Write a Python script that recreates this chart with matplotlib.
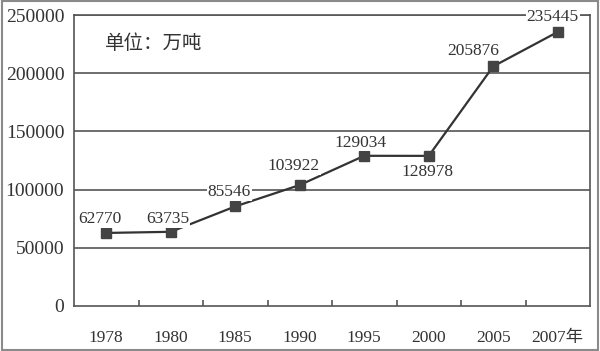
import matplotlib
matplotlib.use("Agg")
import matplotlib.pyplot as plt
import numpy as np
from matplotlib.patches import Rectangle

YEARS = ["1978", "1980", "1985", "1990", "1995", "2000", "2005", "2007年"]
OUTPUT = [62770, 63735, 85546, 103922, 129034, 128978, 205876, 235445]
# label offsets in pixels (dx, dy) relative to each point
LABEL_OFFSETS = [(-6, 14), (-3, 13), (-6, 14), (-6, 19), (-4, 13), (-1, -16), (-20, 15), (-5, 15)]
Y_TICKS = [0, 50000, 100000, 150000, 200000, 250000]
UNIT_TEXT = "单位：万吨"

SERIF = ["Liberation Serif", "Noto Sans CJK SC"]
INK = "#333333"
GRID = "#555555"

plt.rcParams["font.family"] = SERIF

fig = plt.figure(figsize=(6.0, 3.51), dpi=100)
ax = fig.add_axes([74 / 600, 1 - 306 / 351, 516 / 600, 291 / 351])

x = np.arange(len(YEARS))
ax.plot(x, OUTPUT, color=INK, lw=1.6, marker="s", ms=6.5,
        mfc="#444444", mec="#444444", zorder=3)

pt = 72 / 100
for xi, v, (dx, dy) in zip(x, OUTPUT, LABEL_OFFSETS):
    ax.annotate(f"{v}", (xi, v), xytext=(dx * pt, dy * pt), textcoords="offset points",
                ha="center", va="center", fontsize=12.5, color=INK, zorder=4,
                bbox=dict(facecolor="white", edgecolor="none", pad=0.5),
                annotation_clip=False)

ax.set_xlim(-0.5, len(YEARS) - 0.5)
ax.set_ylim(0, 250000)
ax.set_yticks(Y_TICKS)
ax.set_yticklabels([str(t) for t in Y_TICKS], fontsize=14, color=INK)
ax.tick_params(axis="y", length=0, pad=7)
ax.set_xticks(x)
ax.set_xticklabels(YEARS, fontsize=12.5, color=INK)
ax.tick_params(axis="x", which="major", length=0, pad=17)
ax.set_xticks(x[:-1] + 0.5, minor=True)
ax.tick_params(axis="x", which="minor", direction="in", length=4, width=1.2, color=GRID)

for t in Y_TICKS[1:]:
    ax.axhline(t, color=GRID, lw=1.2, zorder=1)
for s in ax.spines.values():
    s.set_color(GRID)
    s.set_linewidth(1.2)

ax.text(0.06, 0.9, UNIT_TEXT, transform=ax.transAxes, fontsize=14,
        color=INK, ha="left", va="center")

fig.patches.append(Rectangle((0.003, 0.004), 0.994, 0.992, transform=fig.transFigure,
                             fill=False, edgecolor="#8a8a8a", lw=1.5))

fig.savefig("out.png", dpi=100)
